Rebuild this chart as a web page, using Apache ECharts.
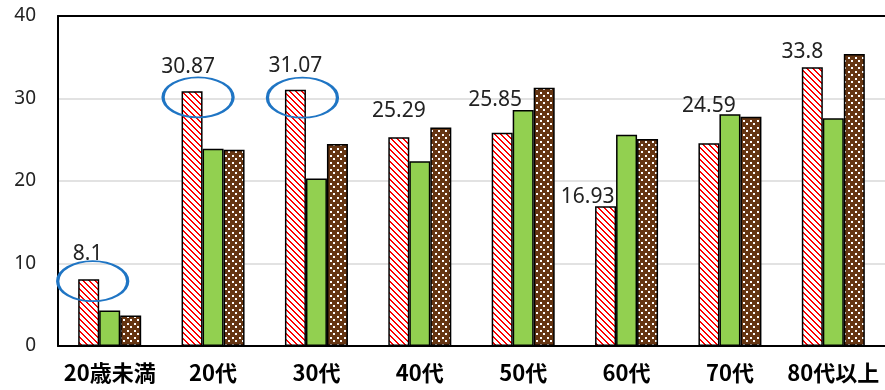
<!DOCTYPE html>
<html>
<head>
<meta charset="utf-8">
<script src="https://cdn.jsdelivr.net/npm/echarts@6/dist/echarts.min.js"></script>
<style>
  html, body { margin: 0; padding: 0; background: #fff; }
  #main { width: 885px; height: 390px; }
</style>
</head>
<body>
<div id="main"></div>
<script>
// categories / values
var categories = ['20歳未満', '20代', '30代', '40代', '50代', '60代', '70代', '80代以上'];
var seriesA = [8.1, 30.87, 31.07, 25.29, 25.85, 16.93, 24.59, 33.8];   // red hatch
var seriesB = [4.3, 23.9, 20.3, 22.4, 28.6, 25.6, 28.1, 27.6];         // green
var seriesC = [3.7, 23.8, 24.5, 26.5, 31.3, 25.1, 27.8, 35.4];         // brown dots
var yTicks = [0, 10, 20, 30, 40];
var circled = [0, 1, 2];  // indexes of seriesA with blue ellipse

// label nudges, the labels were moved by hand in the original
var labelShift = [[-1, -10], [-4, -9], [0, -8], [0, -11], [-7, -17], [-18, 6], [0, -22], [-10, 0]];
var ellipseShift = [[4, 2], [6, 6], [7, 8]];

function hatchRed() {
  var c = document.createElement('canvas');
  c.width = 6; c.height = 6;
  var g = c.getContext('2d');
  g.fillStyle = '#fff'; g.fillRect(0, 0, 6, 6);
  g.fillStyle = '#ff0000';
  for (var y = 0; y < 6; y++) {
    for (var x = 0; x < 6; x++) {
      var d = ((x - y) % 6 + 6) % 6;
      if (d < 2) g.fillRect(x, y, 1, 1);
    }
  }
  return c;
}
function dotsBrown() {
  var c = document.createElement('canvas');
  c.width = 7; c.height = 7;
  var g = c.getContext('2d');
  g.fillStyle = '#653512'; g.fillRect(0, 0, 7, 7);
  g.fillStyle = '#fff';
  g.fillRect(1, 1, 2, 2);
  g.fillRect(4, 4, 2, 2);
  return c;
}

var myChart = echarts.init(document.getElementById('main'));

var dataA = seriesA.map(function (v, i) {
  return { value: v, label: { offset: labelShift[i] } };
});
var marks = circled.map(function (idx, k) {
  return { coord: [categories[idx], seriesA[idx]], symbolOffset: ellipseShift[k] };
});
var barBorder = { borderColor: '#000', borderWidth: 1.5 };

var option = {
  animation: false,
  grid: { left: 58, right: 0, top: 16, bottom: 44 },
  xAxis: [{
    type: 'category',
    data: categories,
    axisLine: { lineStyle: { color: '#000', width: 2 } },
    axisTick: { length: 6, lineStyle: { color: '#000', width: 1.5 } },
    axisLabel: {
      interval: 0,
      margin: 16,
      fontSize: 22,
      fontWeight: 'bold',
      color: '#000',
      fontFamily: 'Noto Sans CJK JP'
    }
  }, {
    type: 'category',
    position: 'top',
    data: categories,
    axisLine: { lineStyle: { color: '#000', width: 2 } },
    axisTick: { show: false },
    axisLabel: { show: false }
  }],
  yAxis: {
    type: 'value',
    min: yTicks[0],
    max: yTicks[yTicks.length - 1],
    interval: 10,
    axisLine: { show: true, lineStyle: { color: '#000', width: 2 } },
    axisTick: { show: false },
    splitLine: { lineStyle: { color: '#d9d9d9', width: 1.5 } },
    axisLabel: { margin: 22, fontSize: 19, color: '#222', fontFamily: 'Noto Sans' }
  },
  series: [{
    type: 'bar',
    barWidth: 21,
    barGap: '0%',
    data: dataA,
    itemStyle: Object.assign({ color: { image: hatchRed(), repeat: 'repeat' } }, barBorder),
    label: {
      show: true,
      position: 'top',
      distance: 5,
      fontSize: 21,
      color: '#222',
      fontFamily: 'Liberation Sans Narrow, Noto Sans'
    },
    markPoint: {
      symbol: 'path://M0,20 A35,20 0 1,1 70,20 A35,20 0 1,1 0,20 Z',
      symbolSize: [70, 40],
      itemStyle: { color: 'none', borderColor: '#1f75c4', borderWidth: 2.5 },
      label: { show: false },
      data: marks
    }
  }, {
    type: 'bar',
    barWidth: 21,
    data: seriesB,
    itemStyle: Object.assign({ color: '#92d050' }, barBorder)
  }, {
    type: 'bar',
    barWidth: 21,
    data: seriesC,
    itemStyle: Object.assign({ color: { image: dotsBrown(), repeat: 'repeat' } }, barBorder)
  }]
};
myChart.setOption(option);
</script>
</body>
</html>
